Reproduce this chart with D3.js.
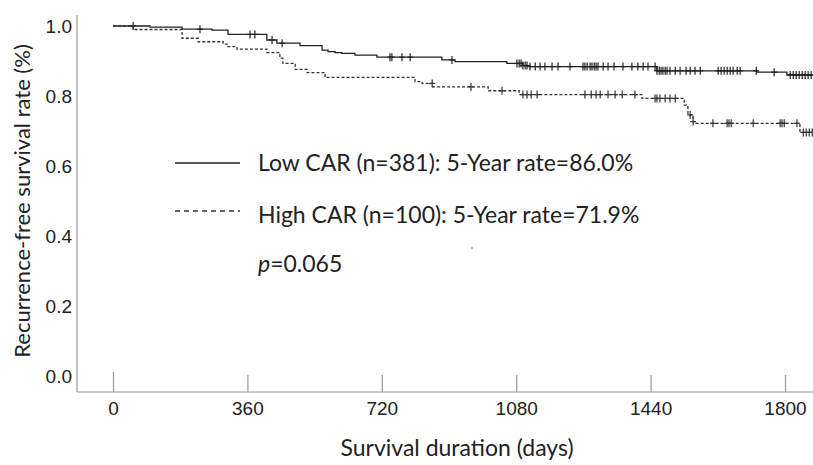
<!DOCTYPE html>
<html>
<head>
<meta charset="utf-8">
<script src="https://cdn.jsdelivr.net/npm/d3@7"></script>
<style>
  body { margin: 0; background: #fff; }
  svg { display: block; }
  .ttl { font-family: Lato, "Open Sans", sans-serif; fill: #222; }
</style>
</head>
<body>
<svg width="813" height="465"></svg>
<script>
// survival steps [day, rate]
var lowSteps = [[0, 1.0], [99, 0.997], [185, 0.991], [265, 0.988], [308, 0.976], [412, 0.960],
  [439, 0.951], [501, 0.944], [560, 0.931], [576, 0.927], [595, 0.924], [613, 0.922],
  [648, 0.917], [707, 0.911], [881, 0.903], [916, 0.898], [1055, 0.893], [1098, 0.887],
  [1117, 0.884], [1457, 0.872], [1725, 0.868], [1805, 0.860], [1875, 0.860]];
var highSteps = [[0, 1.0], [54, 0.99], [185, 0.965], [228, 0.955], [295, 0.948], [308, 0.941],
  [332, 0.934], [412, 0.924], [447, 0.908], [455, 0.893], [488, 0.876], [520, 0.867],
  [568, 0.853], [809, 0.841], [828, 0.836], [857, 0.826], [1005, 0.815], [1088, 0.804],
  [1417, 0.793], [1530, 0.774], [1540, 0.746], [1554, 0.727], [1562, 0.722], [1840, 0.696],
  [1875, 0.696]];
// censored times (days)
var lowCensor = [54, 233, 367, 380, 426, 453, 742, 747, 774, 796, 908, 1082, 1088, 1093, 1098,
  1104, 1109, 1117, 1131, 1144, 1157, 1176, 1192, 1224, 1259, 1264, 1270, 1278, 1283, 1289,
  1294, 1299, 1313, 1326, 1342, 1366, 1390, 1406, 1420, 1433, 1452, 1457, 1463, 1468, 1473,
  1479, 1484, 1492, 1506, 1519, 1535, 1546, 1559, 1573, 1621, 1629, 1637, 1645, 1653, 1661,
  1672, 1680, 1723, 1771, 1814, 1822, 1830, 1838, 1846, 1854, 1862, 1870];
var highCensor = [855, 959, 1042, 1098, 1109, 1120, 1136, 1264, 1281, 1294, 1305, 1326, 1345,
  1364, 1398, 1452, 1457, 1465, 1479, 1492, 1506, 1546, 1554, 1607, 1645, 1650, 1656, 1715,
  1787, 1792, 1798, 1832, 1849, 1857, 1865, 1873];
var xTicks = [0, 360, 720, 1080, 1440, 1800];
var yTicks = [0, 0.2, 0.4, 0.6, 0.8, 1.0];
var legendLabels = ["Low CAR (n=381): 5-Year rate=86.0%", "High CAR (n=100): 5-Year rate=71.9%"];
var pText = "=0.065";

var svg = d3.select("svg");
var x = d3.scaleLinear().domain([0, 1800]).range([113, 785]);
var y = d3.scaleLinear().domain([0, 1]).range([376, 26]);
var axisY = 392, axisX = 77;
var tickFont = "Liberation Sans";

// axes
svg.append("line").attr("x1", axisX).attr("x2", axisX).attr("y1", 15).attr("y2", axisY)
  .attr("stroke", "#999").attr("stroke-width", 1.2);
svg.append("line").attr("x1", axisX).attr("x2", 813).attr("y1", axisY).attr("y2", axisY)
  .attr("stroke", "#999").attr("stroke-width", 1.2);

var gx = svg.append("g").attr("transform", "translate(0," + axisY + ")")
  .call(d3.axisBottom(x).tickValues(xTicks).tickFormat(d3.format("d")).tickSize(0).tickPadding(10))
  .attr("font-family", tickFont).attr("font-size", 19);
gx.select(".domain").remove();
gx.selectAll(".tick line").remove();
gx.selectAll(".tick").append("line").attr("y1", 0).attr("y2", function(d) { return d === 0 ? -20 : -17; })
  .attr("stroke", "#999").attr("stroke-width", 1.2);

var gy = svg.append("g").attr("transform", "translate(" + axisX + ",0)")
  .call(d3.axisLeft(y).tickValues(yTicks).tickFormat(d3.format(".1f")).tickSize(0).tickPadding(5))
  .attr("font-family", tickFont).attr("font-size", 19);
gy.select(".domain").remove();
svg.selectAll(".tick text").attr("fill", "#222");

// curves
var line = d3.line().curve(d3.curveStepAfter)
  .x(function(d) { return x(d[0]); })
  .y(function(d) { return y(d[1]); });

function rateAt(steps, t) {
  var r = steps[0][1];
  for (var i = 0; i < steps.length; i++) if (steps[i][0] <= t) r = steps[i][1];
  return r;
}

function drawCurve(steps, censor, dash, col) {
  svg.append("path").datum(steps).attr("d", line)
    .attr("fill", "none").attr("stroke", col).attr("stroke-width", 1.3)
    .attr("stroke-dasharray", dash);
  var g = svg.append("g").attr("stroke", col).attr("stroke-width", 1.2);
  g.selectAll("line.v").data(censor).enter().append("line")
    .attr("x1", function(d) { return x(d); }).attr("x2", function(d) { return x(d); })
    .attr("y1", function(d) { return y(rateAt(steps, d)) - 4; })
    .attr("y2", function(d) { return y(rateAt(steps, d)) + 4; });
  g.selectAll("line.h").data(censor).enter().append("line")
    .attr("x1", function(d) { return x(d) - 3; }).attr("x2", function(d) { return x(d) + 3; })
    .attr("y1", function(d) { return y(rateAt(steps, d)); })
    .attr("y2", function(d) { return y(rateAt(steps, d)); });
}
drawCurve(lowSteps, lowCensor, null, "#222");
drawCurve(highSteps, highCensor, "3,2", "#333");

// legend
svg.append("line").attr("x1", 175).attr("x2", 240).attr("y1", 163).attr("y2", 163)
  .attr("stroke", "#222").attr("stroke-width", 1.5);
svg.append("line").attr("x1", 175).attr("x2", 240).attr("y1", 211).attr("y2", 211)
  .attr("stroke", "#333").attr("stroke-width", 1.3).attr("stroke-dasharray", "5,4");
svg.append("text").attr("class", "ttl").attr("x", 258).attr("y", 171)
  .style("font-size", "23px").text(legendLabels[0]);
svg.append("text").attr("class", "ttl").attr("x", 258).attr("y", 223)
  .style("font-size", "23px").text(legendLabels[1]);
var pt = svg.append("text").attr("class", "ttl").attr("x", 258).attr("y", 272)
  .style("font-size", "23px");
pt.append("tspan").style("font-style", "italic").text("p");
pt.append("tspan").text(pText);
svg.append("circle").attr("cx", 472).attr("cy", 248).attr("r", 0.8).attr("fill", "#666");

// titles
svg.append("text").attr("class", "ttl").attr("x", 457).attr("y", 456)
  .attr("text-anchor", "middle").style("font-size", "23px").text("Survival duration (days)");
svg.append("text").attr("class", "ttl").attr("transform", "translate(30,201) rotate(-90)")
  .attr("text-anchor", "middle").style("font-size", "22px").text("Recurrence-free survival rate (%)");
</script>
</body>
</html>
